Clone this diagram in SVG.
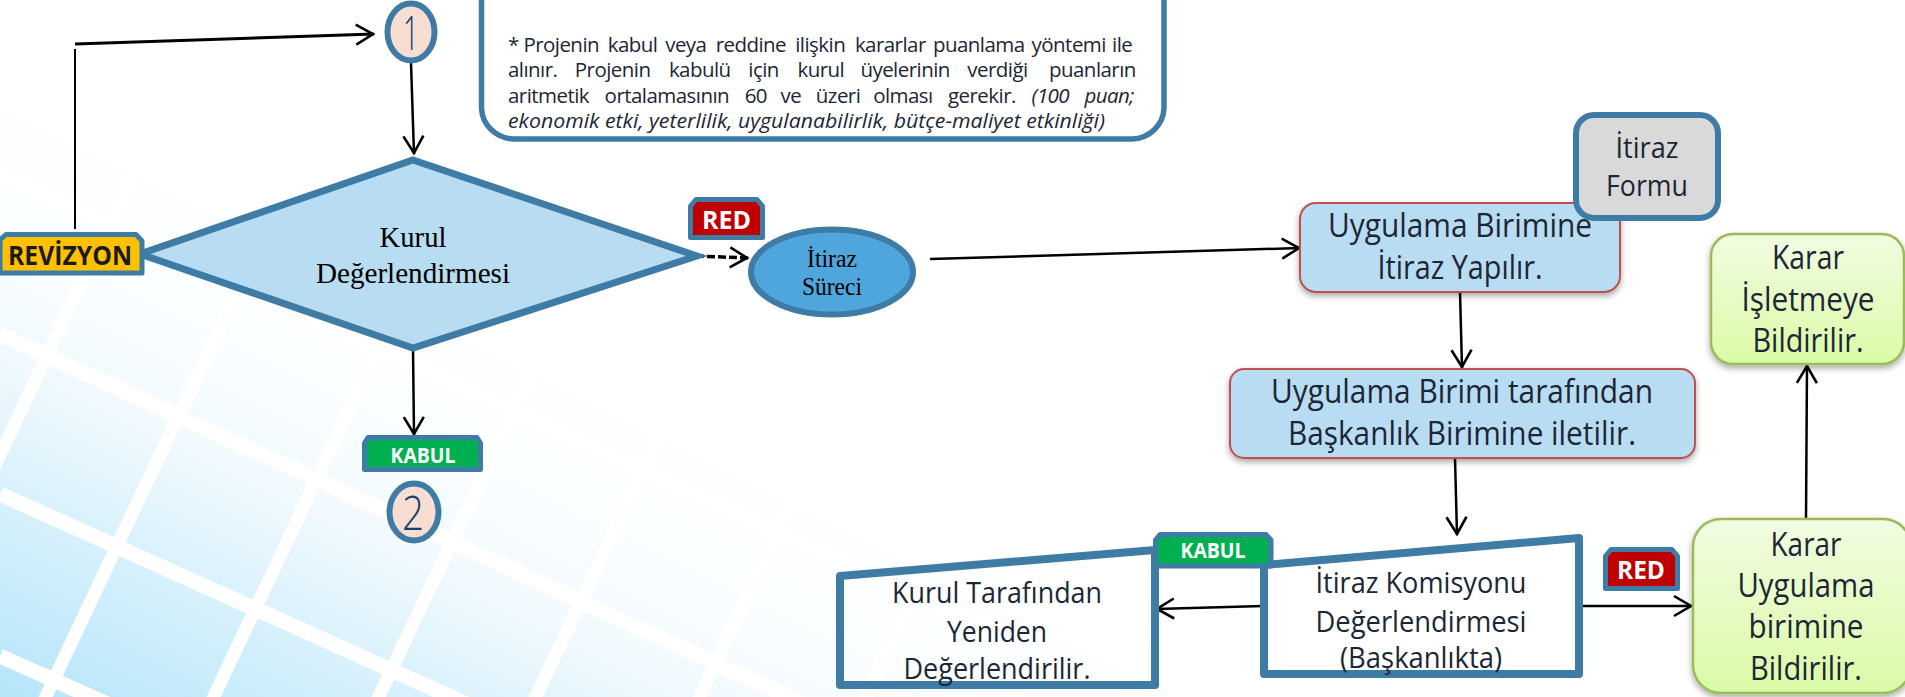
<svg xmlns="http://www.w3.org/2000/svg" width="1905" height="697" viewBox="0 0 1905 697">
<style>
.sans{font-family:"Open Sans","Liberation Sans",sans-serif}
.serif{font-family:"Liberation Serif",serif;fill:#000}
.dark{fill:#1c2636;text-anchor:middle}
.big{font-size:33px}
.mid{font-size:30px}
.note{font-size:20.500px;fill:#1c2636;letter-spacing:-.55px}
.badge{stroke:#3e7ca6;stroke-width:5;stroke-linejoin:round}
.tag{font-family:"Open Sans","Liberation Sans",sans-serif;font-weight:700;text-anchor:middle;fill:#fff}
.frame{fill:none;stroke:#3e7ca6;stroke-width:8;stroke-linejoin:round}
.blue{fill:#b8dcf1;stroke:#c0504d;stroke-width:2}
.green{fill:url(#gr);stroke:#9bbb59;stroke-width:2.500}
.digit{font-family:"Open Sans","Liberation Sans",sans-serif;font-weight:300;font-size:47px;fill:#17406d;text-anchor:middle}
.num{fill:#f8ddd3;stroke:#3e7ca6;stroke-width:6}
.c{fill:none;stroke:#000;stroke-width:2.500;marker-end:url(#arr)}
.grid line{stroke:#fff;stroke-width:15}
.grid2 line{stroke:#fff;stroke-width:13}
</style>
<defs>
<linearGradient id="bg" gradientUnits="userSpaceOnUse" x1="0" y1="697" x2="259" y2="178">
<stop offset="0" stop-color="#b5e5fa"/><stop offset=".38" stop-color="#dff3fc"/><stop offset=".55" stop-color="#f2fafe"/><stop offset=".75" stop-color="#fbfeff"/><stop offset="1" stop-color="#fff"/>
</linearGradient>
<linearGradient id="gr" x1="0" y1="0" x2="0" y2="1"><stop offset="0" stop-color="#f1fce2"/><stop offset="1" stop-color="#dbfba6"/></linearGradient>
<filter id="sh" x="-10%" y="-10%" width="120%" height="125%"><feDropShadow dx="0" dy="3" stdDeviation="3" flood-color="#000" flood-opacity=".35"/></filter>
<marker id="arr" viewBox="-20 -13 22 26" refX="0" refY="0" markerWidth="22" markerHeight="26" markerUnits="userSpaceOnUse" orient="auto">
<path d="M-18,-10 L-1,0 L-18,10" fill="none" stroke="#000" stroke-width="2.600"/>
</marker>
</defs>
<rect id="background" width="1905" height="697" fill="url(#bg)"/>
<g class="grid">
<line x1="0" y1="14" x2="1000" y2="474"/><line x1="0" y1="174" x2="1000" y2="634"/><line x1="0" y1="334" x2="1000" y2="794"/><line x1="0" y1="494" x2="700" y2="809"/><line x1="0" y1="656" x2="300" y2="790"/>
</g>
<g class="grid2">
<line x1="-130" y1="730" x2="130" y2="180"/><line x1="30" y1="730" x2="290" y2="180"/><line x1="198" y1="730" x2="458" y2="180"/><line x1="363" y1="730" x2="623" y2="180"/><line x1="520" y1="730" x2="780" y2="180"/><line x1="684" y1="730" x2="944" y2="180"/><line x1="850" y1="730" x2="1110" y2="180"/>
</g>
<g id="connectors">
<line x1="75" y1="229" x2="75" y2="49" stroke="#000" stroke-width="2"/>
<line class="c" x1="75" y1="44" x2="374" y2="34" style="stroke-width:3"/>
<line class="c" x1="411" y1="63" x2="414" y2="154"/>
<line class="c" x1="413" y1="349" x2="414" y2="435"/>
<line class="c" x1="696" y1="256" x2="748" y2="258" style="stroke-width:3.500;stroke-dasharray:8 3"/>
<line class="c" x1="930" y1="259" x2="1300" y2="248"/>
<line class="c" x1="1460" y1="292" x2="1462" y2="368"/>
<line class="c" x1="1455" y1="458" x2="1457" y2="535"/>
<line class="c" x1="1263" y1="606" x2="1156" y2="609"/>
<line class="c" x1="1579" y1="606" x2="1692" y2="606"/>
<line class="c" x1="1806" y1="518" x2="1807" y2="365"/>
</g>
<g id="note">
<path d="M481.500,-10 V108 A33,32 0 0 0 514,139 H1132 A33,32 0 0 0 1164,108 V-10" fill="#fff" stroke="#3e7ca6" stroke-width="5.500"/>
<text class="sans note" y="52"><tspan x="508">*</tspan><tspan x="523.400">Projenin</tspan><tspan x="607.800">kabul</tspan><tspan x="665.200">veya</tspan><tspan x="715.700">reddine</tspan><tspan x="795.200">ilişkin</tspan><tspan x="854.900">kararlar</tspan><tspan x="932.900">puanlama</tspan><tspan x="1031.600">yöntemi</tspan><tspan x="1112">ile</tspan></text>
<text class="sans note" y="77"><tspan x="508">alınır.</tspan><tspan x="574.800">Projenin</tspan><tspan x="668.900">kabulü</tspan><tspan x="748.300">için</tspan><tspan x="797.500">kurul</tspan><tspan x="860.400">üyelerinin</tspan><tspan x="967.300">verdiği</tspan><tspan x="1049">puanların</tspan></text>
<text class="sans note" y="103"><tspan x="508">aritmetik</tspan><tspan x="604.600">ortalamasının</tspan><tspan x="744.700">60</tspan><tspan x="780.500">ve</tspan><tspan x="815.800">üzeri</tspan><tspan x="873.200">olması</tspan><tspan x="948">gerekir.</tspan><tspan x="1031.600" font-style="italic">(100</tspan><tspan x="1084.400" font-style="italic">puan;</tspan></text>
<text class="sans note" y="128" x="508" font-style="italic" style="letter-spacing:0" textLength="597" lengthAdjust="spacingAndGlyphs">ekonomik etki, yeterlilik, uygulanabilirlik, bütçe-maliyet etkinliği)</text>
</g>
<g id="n1">
<ellipse class="num" cx="411" cy="32" rx="23.500" ry="28.500"/>
<text class="digit" x="411" y="50" textLength="16" lengthAdjust="spacingAndGlyphs">1</text>
</g>
<g id="kurul">
<polygon points="413,160 697,256 413,348 140,254" fill="#b8dcf1" stroke="#3e7ca6" stroke-width="7" stroke-linejoin="miter"/>
<text class="serif" x="413" y="247" font-size="30" text-anchor="middle" textLength="67" lengthAdjust="spacingAndGlyphs">Kurul</text>
<text class="serif" x="413" y="283" font-size="30" text-anchor="middle" textLength="194" lengthAdjust="spacingAndGlyphs">Değerlendirmesi</text>
</g>
<g id="revizyon">
<polygon class="badge" points="6,234.500 136,234.500 142,241 142,273 0,273 0,240" fill="#ffc000"/>
<text class="tag" x="70" y="265" font-size="26" style="fill:#1a1a1a" textLength="124" lengthAdjust="spacingAndGlyphs">REVİZYON</text>
</g>
<g id="red1">
<polygon class="badge" points="696,199.500 757,199.500 762.500,206 762.500,237.500 690.500,237.500 690.500,206" fill="#c00000"/>
<text class="tag" x="726.500" y="229" font-size="25" textLength="49" lengthAdjust="spacingAndGlyphs">RED</text>
</g>
<g id="itiraz-sureci">
<ellipse cx="832" cy="272" rx="81" ry="42.500" fill="#4fa6dc" stroke="#3e7ca6" stroke-width="6"/>
<text class="serif" x="832" y="267" font-size="25" text-anchor="middle" textLength="50" lengthAdjust="spacingAndGlyphs">İtiraz</text>
<text class="serif" x="832" y="295" font-size="25" text-anchor="middle" textLength="60" lengthAdjust="spacingAndGlyphs">Süreci</text>
</g>
<g id="kabul1">
<polygon class="badge" points="368,437.500 477,437.500 480.500,443 480.500,469.500 364.500,469.500 364.500,443" fill="#00b050"/>
<text class="tag" x="423" y="463" font-size="21" textLength="65" lengthAdjust="spacingAndGlyphs">KABUL</text>
</g>
<g id="n2">
<ellipse class="num" cx="414" cy="512" rx="24.500" ry="28.500"/>
<text class="digit" x="413" y="530" textLength="22" lengthAdjust="spacingAndGlyphs">2</text>
</g>
<g id="uygulama1">
<rect class="blue" x="1300" y="203" width="320" height="89" rx="16" filter="url(#sh)"/>
<text class="sans dark big" x="1460" y="237" textLength="264" lengthAdjust="spacingAndGlyphs">Uygulama Birimine</text>
<text class="sans dark big" x="1460" y="279" textLength="165" lengthAdjust="spacingAndGlyphs">İtiraz Yapılır.</text>
</g>
<g id="itiraz-formu">
<rect x="1576" y="115" width="142" height="103" rx="18" fill="#d9d9d9" stroke="#3e7ca6" stroke-width="6"/>
<text class="sans dark" x="1647" y="158" font-size="29" textLength="63" lengthAdjust="spacingAndGlyphs">İtiraz</text>
<text class="sans dark" x="1647" y="196" font-size="29" textLength="82" lengthAdjust="spacingAndGlyphs">Formu</text>
</g>
<g id="uygulama2">
<rect class="blue" x="1230" y="369" width="465" height="89" rx="14" filter="url(#sh)"/>
<text class="sans dark big" x="1462" y="403" textLength="382" lengthAdjust="spacingAndGlyphs">Uygulama Birimi tarafından</text>
<text class="sans dark big" x="1462" y="445" textLength="348" lengthAdjust="spacingAndGlyphs">Başkanlık Birimine iletilir.</text>
</g>
<g id="karar-isletme">
<rect class="green" x="1711" y="234" width="193" height="130" rx="22" filter="url(#sh)"/>
<text class="sans dark big" x="1808" y="269" textLength="72" lengthAdjust="spacingAndGlyphs">Karar</text>
<text class="sans dark big" x="1808" y="311" textLength="133" lengthAdjust="spacingAndGlyphs">İşletmeye</text>
<text class="sans dark big" x="1808" y="352" textLength="111" lengthAdjust="spacingAndGlyphs">Bildirilir.</text>
</g>
<g id="kurul-tarafindan">
<polygon class="frame" points="840,576 1155,550 1155,685 840,685"/>
<text class="sans dark mid" x="997" y="603" textLength="210" lengthAdjust="spacingAndGlyphs">Kurul Tarafından</text>
<text class="sans dark mid" x="997" y="642" textLength="100" lengthAdjust="spacingAndGlyphs">Yeniden</text>
<text class="sans dark mid" x="997" y="679" textLength="187" lengthAdjust="spacingAndGlyphs">Değerlendirilir.</text>
</g>
<g id="itiraz-komisyonu">
<polygon class="frame" points="1264,565 1579,538 1579,674 1264,674"/>
<text class="sans dark mid" x="1421" y="593" textLength="211" lengthAdjust="spacingAndGlyphs">İtiraz Komisyonu</text>
<text class="sans dark mid" x="1421" y="632" textLength="211" lengthAdjust="spacingAndGlyphs">Değerlendirmesi</text>
<text class="sans dark mid" x="1421" y="668" textLength="162" lengthAdjust="spacingAndGlyphs">(Başkanlıkta)</text>
</g>
<g id="kabul2">
<polygon class="badge" points="1160,534.500 1266,534.500 1271,540 1271,566 1155.500,566 1155.500,540" fill="#00b050"/>
<text class="tag" x="1213" y="558" font-size="21" textLength="65" lengthAdjust="spacingAndGlyphs">KABUL</text>
</g>
<g id="red2">
<polygon class="badge" points="1611,549.500 1672,549.500 1677.500,556 1677.500,588.500 1605.500,588.500 1605.500,556" fill="#c00000"/>
<text class="tag" x="1641" y="579" font-size="25" textLength="48" lengthAdjust="spacingAndGlyphs">RED</text>
</g>
<g id="karar-uygulama">
<rect class="green" x="1693" y="519" width="218" height="174" rx="28" filter="url(#sh)"/>
<text class="sans dark big" x="1806" y="556" textLength="71" lengthAdjust="spacingAndGlyphs">Karar</text>
<text class="sans dark big" x="1806" y="597" textLength="137" lengthAdjust="spacingAndGlyphs">Uygulama</text>
<text class="sans dark big" x="1806" y="638" textLength="115" lengthAdjust="spacingAndGlyphs">birimine</text>
<text class="sans dark big" x="1806" y="680" textLength="112" lengthAdjust="spacingAndGlyphs">Bildirilir.</text>
</g>
</svg>
